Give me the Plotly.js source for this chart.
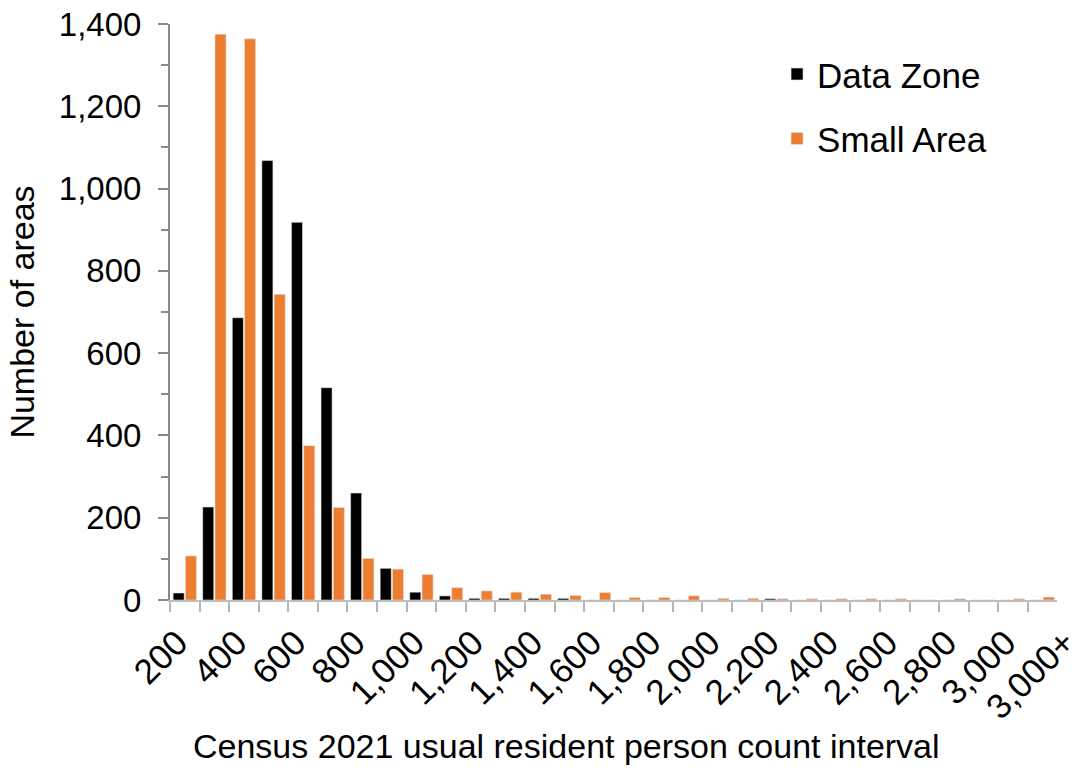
<!DOCTYPE html>
<html>
<head>
<meta charset="utf-8">
<script src="https://cdn.plot.ly/plotly-3.0.1.min.js"></script>
<style>html,body{margin:0;padding:0;background:#fff;}#chart{width:1089px;height:771px;}</style>
</head>
<body>
<div id="chart"></div>
<script>
// Census 2021 usual resident person count intervals (bars)
const categories = ['200','300','400','500','600','700','800','900','1,000','1,100','1,200','1,300','1,400','1,500','1,600','1,700','1,800','1,900','2,000','2,100','2,200','2,300','2,400','2,500','2,600','2,700','2,800','2,900','3,000','3,000+'];
// Number of Data Zones per interval
const dataZone = [17,226,686,1068,918,516,260,77,19,10,4,4,4,4,0,0,0,0,0,0,3,0,0,0,0,0,0,0,0,0];
// Number of Small Areas per interval
const smallArea = [107,1375,1364,743,375,225,101,75,62,30,22,19,14,11,18,6,6,10,4,4,3,3,3,3,3,0,3,0,3,7];
// Axis tick labels as printed under the axis
const tickLabels = ['200','400','600','800','1,000','1,200','1,400','1,600','1,800','2,000','2,200','2,400','2,600','2,800','3,000','3,000+'];

const FONT = 'Liberation Sans, Arial, sans-serif';
const nCat = categories.length;
const tickPos = tickLabels.map((_, i) => i * 2);

const traces = [
  {type:'bar', name:'Data Zone', x:categories, y:dataZone, legendgroup:'a',
   marker:{color:'#000000', line:{color:'#e0e0e0', width:0.6}}, hoverinfo:'x+y+name'},
  {type:'bar', name:'Small Area', x:categories, y:smallArea, legendgroup:'b',
   marker:{color:'#ED7D31', line:{color:'#e0e0e0', width:0.6}}, hoverinfo:'x+y+name'},
  // empty helper trace so the label axis (x2) is drawn
  {type:'scatter', mode:'markers', x:[], y:[], xaxis:'x2', yaxis:'y', showlegend:false, hoverinfo:'skip'}
];

const layout = {
  width:1089, height:771,
  margin:{l:170, r:2.4, t:24, b:171, pad:0},
  paper_bgcolor:'#ffffff', plot_bgcolor:'rgba(0,0,0,0)',
  font:{family:FONT, color:'#000000', size:33},
  barmode:'group', bargap:0.17, bargroupgap:0.1,
  showlegend:true,
  legend:{x:0.662, y:0.964, xanchor:'left', yanchor:'top', traceorder:'grouped', tracegroupgap:16,
          font:{family:FONT, size:35, color:'#000'}, bgcolor:'rgba(0,0,0,0)'},
  xaxis:{type:'category', domain:[0, nCat/(nCat+1)], range:[-0.5, nCat-0.5], anchor:'y',
         showline:true, linecolor:'#bfbfbf', linewidth:2, ticks:'outside', tickson:'boundaries',
         ticklen:10, tickwidth:2, tickcolor:'#b5b5b5', showticklabels:false, showgrid:false,
         zeroline:false, fixedrange:true},
  xaxis2:{type:'linear', anchor:'y', side:'bottom', domain:[0,1],
          range:[-0.25, nCat+0.75], tickmode:'array', tickvals:tickPos, ticktext:tickLabels,
          tickangle:-45, ticks:'', showline:false, showgrid:false, zeroline:false,
          ticklabeloverflow:'allow', ticklabelstandoff:14,
          tickfont:{family:FONT, size:35, color:'#000'}, fixedrange:true},
  yaxis:{range:[0,1400], dtick:200, tickformat:',d', showline:true, linecolor:'#898989', linewidth:2,
         ticks:'outside', ticklen:10, tickwidth:2, tickcolor:'#898989',
         minor:{dtick:100, ticks:'outside', ticklen:7, tickwidth:2, tickcolor:'#898989', showgrid:false},
         showgrid:false, zeroline:false, ticklabelstandoff:10,
         tickfont:{family:FONT, size:33, color:'#000'},
         title:{text:'Number of areas', font:{family:FONT, size:34, color:'#000'}, standoff:14},
         fixedrange:true},
  annotations:[{text:'Census 2021 usual resident person count interval', xref:'paper', yref:'paper',
                x:0.432, y:-0.253, xanchor:'center', yanchor:'middle', showarrow:false,
                font:{family:FONT, size:34, color:'#000'}}]
};

Plotly.newPlot('chart', traces, layout, {displayModeBar:false, staticPlot:false});
</script>
</body>
</html>
